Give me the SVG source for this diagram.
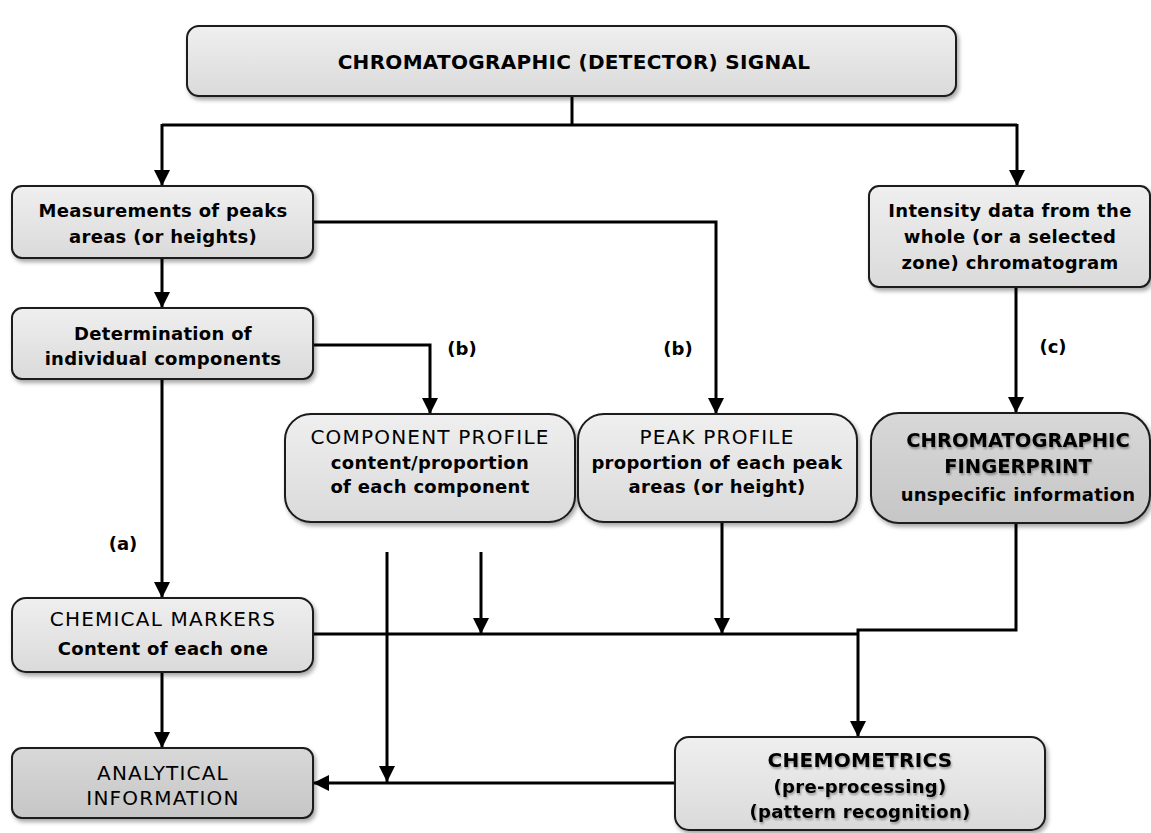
<svg xmlns="http://www.w3.org/2000/svg" width="1151" height="833" viewBox="0 0 1151 833">
<defs>
<linearGradient id="gLight" x1="0" y1="0" x2="0" y2="1">
<stop offset="0" stop-color="#efefef"/><stop offset="1" stop-color="#dadada"/>
</linearGradient>
<linearGradient id="gDark" x1="0" y1="0" x2="0" y2="1">
<stop offset="0" stop-color="#d8d8d8"/><stop offset="1" stop-color="#c6c6c6"/>
</linearGradient>
<filter id="shadow" x="-10%" y="-10%" width="130%" height="140%">
<feDropShadow dx="2" dy="3" stdDeviation="2" flood-color="#000" flood-opacity="0.35"/>
</filter>
<filter id="tshadow" x="-10%" y="-30%" width="120%" height="160%">
<feDropShadow dx="1" dy="2" stdDeviation="1.2" flood-color="#000" flood-opacity="0.35"/>
</filter>
<marker id="arr" markerUnits="userSpaceOnUse" markerWidth="18" markerHeight="16" refX="16" refY="8" orient="auto">
<path d="M0,0 L16,8 L0,16 z" fill="#000"/>
</marker>
</defs>
<style>
.box{fill:url(#gLight);stroke:#1a1a1a;stroke-width:2;filter:url(#shadow)}
.dark{fill:url(#gDark)}
text{font-family:"DejaVu Sans",sans-serif;font-size:18px;fill:#000;text-anchor:middle}
.b{font-weight:bold;letter-spacing:0.3px}
.up{font-size:20px;letter-spacing:1.2px}
.t{font-size:20px;font-weight:bold;letter-spacing:0.3px}
.fp{font-size:19.5px;font-weight:bold}
.sh{filter:url(#tshadow)}
.lbl{font-weight:bold;font-size:18px}
.c{fill:none;stroke:#000;stroke-width:3}
.a{marker-end:url(#arr)}
</style>
<g id="connectors">
<path class="c" d="M572,96 V125"/>
<path class="c" d="M162,125 H1017"/>
<path class="c a" d="M162,124 V186"/>
<path class="c a" d="M1017,124 V186"/>
<path class="c a" d="M162,258 V308"/>
<path class="c a" d="M313,222 H716 V414"/>
<path class="c a" d="M313,345 H430 V414"/>
<path class="c a" d="M162,379 V598"/>
<path class="c a" d="M1016,288 V413"/>
<path class="c a" d="M162,672 V748"/>
<path class="c" d="M313,634 H857"/>
<path class="c a" d="M387,552 V782"/>
<path class="c a" d="M481,552 V634"/>
<path class="c a" d="M722,522 V634"/>
<path class="c a" d="M1016,523 V630 H858 V737"/>
<path class="c a" d="M675,783 H313"/>
</g>
<g id="labels">
<text class="lbl" x="123" y="550">(a)</text>
<text class="lbl" x="462" y="355">(b)</text>
<text class="lbl" x="678" y="355">(b)</text>
<text class="lbl" x="1053" y="353">(c)</text>
</g>
<g id="node-signal">
<rect class="box" x="187" y="26" width="769" height="70" rx="12"/>
<text class="t" x="574" y="69">CHROMATOGRAPHIC (DETECTOR) SIGNAL</text>
</g>
<g id="node-measurements">
<rect class="box" x="12" y="186" width="301" height="72" rx="10"/>
<text class="b" x="163" y="217">Measurements of peaks</text>
<text class="b" x="163" y="243">areas (or heights)</text>
</g>
<g id="node-determination">
<rect class="box" x="12" y="308" width="301" height="71" rx="10"/>
<text class="b" x="163" y="340">Determination of</text>
<text class="b" x="163" y="365">individual components</text>
</g>
<g id="node-intensity">
<rect class="box" x="869" y="186" width="281" height="101" rx="10"/>
<text class="b" x="1010" y="217">Intensity data from the</text>
<text class="b" x="1010" y="243">whole (or a selected</text>
<text class="b" x="1010" y="269">zone) chromatogram</text>
</g>
<g id="node-component">
<rect class="box" x="285" y="414" width="290" height="108" rx="26"/>
<text class="up" x="430" y="444">COMPONENT PROFILE</text>
<text class="b" x="430" y="469">content/proportion</text>
<text class="b" x="430" y="493">of each component</text>
</g>
<g id="node-peak">
<rect class="box" x="578" y="414" width="279" height="108" rx="26"/>
<text class="up" x="717" y="444">PEAK PROFILE</text>
<text class="b" x="717" y="469">proportion of each peak</text>
<text class="b" x="717" y="493">areas (or height)</text>
</g>
<g id="node-fingerprint">
<rect class="box dark" x="871" y="413" width="279" height="110" rx="28"/>
<text class="fp sh" x="1018" y="447">CHROMATOGRAPHIC</text>
<text class="fp sh" x="1018" y="473">FINGERPRINT</text>
<text class="b" x="1018" y="501">unspecific information</text>
</g>
<g id="node-markers">
<rect class="box" x="12" y="598" width="301" height="74" rx="14"/>
<text class="up" x="163" y="626">CHEMICAL MARKERS</text>
<text class="b" x="163" y="655">Content of each one</text>
</g>
<g id="node-analytical">
<rect class="box dark" x="12" y="748" width="301" height="70" rx="10"/>
<text class="up" x="163" y="780">ANALYTICAL</text>
<text class="up" x="163" y="805">INFORMATION</text>
</g>
<g id="node-chemometrics">
<rect class="box" x="675" y="737" width="370" height="93" rx="14"/>
<text class="t sh" x="860" y="767">CHEMOMETRICS</text>
<text class="b sh" x="860" y="793">(pre-processing)</text>
<text class="b sh" x="860" y="818">(pattern recognition)</text>
</g>
</svg>
